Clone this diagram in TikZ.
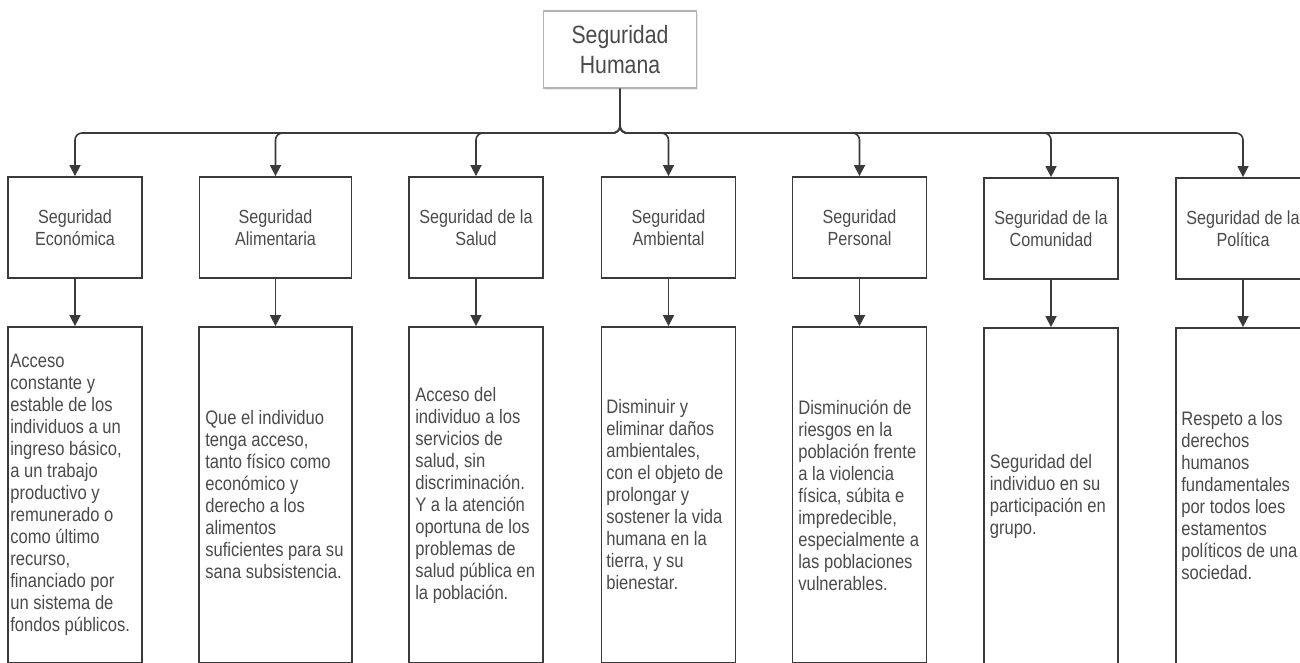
\documentclass[tikz,border=0pt]{standalone}
\usepackage{fontspec}
\setmainfont[FakeStretch=0.85]{Liberation Sans}
\usetikzlibrary{arrows.meta,calc,shadows}
\definecolor{ink}{HTML}{3A3A3A}
\definecolor{txt}{HTML}{4A4A4A}
\definecolor{topline}{HTML}{B4B4B4}
\begin{document}
\begin{tikzpicture}[x=1pt,y=-1pt,
  every node/.style={text=txt},
  topbox/.style={draw=topline, line width=1.6pt, fill=white, minimum width=153pt, minimum height=77pt,
    align=center, inner sep=0pt, font=\fontsize{25}{29.5}\selectfont,
    drop shadow={opacity=0.18, shadow xshift=1pt, shadow yshift=-1.5pt}},
  headbox/.style={draw=ink, line width=1.8pt, minimum width=134pt, minimum height=101pt,
    align=center, inner sep=0pt, font=\fontsize{19}{22}\selectfont},
  descbox/.style={draw=ink, line width=1.8pt, minimum width=134pt, minimum height=336pt, inner sep=0pt},
  desctext/.style={anchor=west, align=left, inner sep=0pt, font=\fontsize{19.5}{22}\selectfont},
  link/.style={draw=ink, line width=1.6pt, -{Triangle[length=11pt,width=11pt]}, rounded corners=7pt},
]
\useasboundingbox (0,0) rectangle (1300,662);
\clip (0,0) rectangle (1300,662);

% top node
\node[topbox] (top) at (620,49.5) {Seguridad\\Humana};
\coordinate (bus) at (620,133);

% first row
\node[headbox] (h1) at (75,227.5) {Seguridad\\Económica};
\node[headbox, minimum width=152pt] (h2) at (275.5,227.5) {Seguridad\\Alimentaria};
\node[headbox] (h3) at (476,227.5) {Seguridad de la\\Salud};
\node[headbox] (h4) at (668.5,227.5) {Seguridad\\Ambiental};
\node[headbox] (h5) at (859.5,227.5) {Seguridad\\Personal};
\node[headbox] (h6) at (1051,228.5) {Seguridad de la\\Comunidad};
\node[headbox] (h7) at (1243,228.5) {Seguridad de la\\Política};

% second row
\node[descbox] (d1) at (75,495) {};
\node[descbox, minimum width=153pt] (d2) at (275.5,495) {};
\node[descbox] (d3) at (476,495) {};
\node[descbox] (d4) at (668.5,495) {};
\node[descbox] (d5) at (859.5,495) {};
\node[descbox] (d6) at (1051,496) {};
\node[descbox] (d7) at (1243,496) {};

\node[desctext] (t1) at ($(d1.west)+(3,0)$) {Acceso\\constante y\\estable de los\\individuos a un\\ingreso básico,\\a un trabajo\\productivo y\\remunerado o\\como último\\recurso,\\financiado por\\un sistema de\\fondos públicos.};
\node[desctext] (t2) at ($(d2.west)+(7,0)$) {Que el individuo\\tenga acceso,\\tanto físico como\\económico y\\derecho a los\\alimentos\\suficientes para su\\sana subsistencia.};
\node[desctext] (t3) at ($(d3.west)+(7,0)$) {Acceso del\\individuo a los\\servicios de\\salud, sin\\discriminación.\\Y a la atención\\oportuna de los\\problemas de\\salud pública en\\la población.};
\node[desctext] (t4) at ($(d4.west)+(5.5,0)$) {Disminuir y\\eliminar daños\\ambientales,\\con el objeto de\\prolongar y\\sostener la vida\\humana en la\\tierra, y su\\bienestar.};
\node[desctext] (t5) at ($(d5.west)+(6.5,0)$) {Disminución de\\riesgos en la\\población frente\\a la violencia\\física, súbita e\\impredecible,\\especialmente a\\las poblaciones\\vulnerables.};
\node[desctext] (t6) at ($(d6.west)+(6.5,0)$) {Seguridad del\\individuo en su\\participación en\\grupo.};
\node[desctext] (t7) at ($(d7.west)+(6,0)$) {Respeto a los\\derechos\\humanos\\fundamentales\\por todos loes\\estamentos\\políticos de una\\sociedad.};

% connectors
\foreach \i in {1,...,7}{
  \draw[link] (top.south) |- (h\i.north |- bus) -- (h\i.north);
  \draw[link] (h\i.south) -- (d\i.north);
}
\end{tikzpicture}
\end{document}
